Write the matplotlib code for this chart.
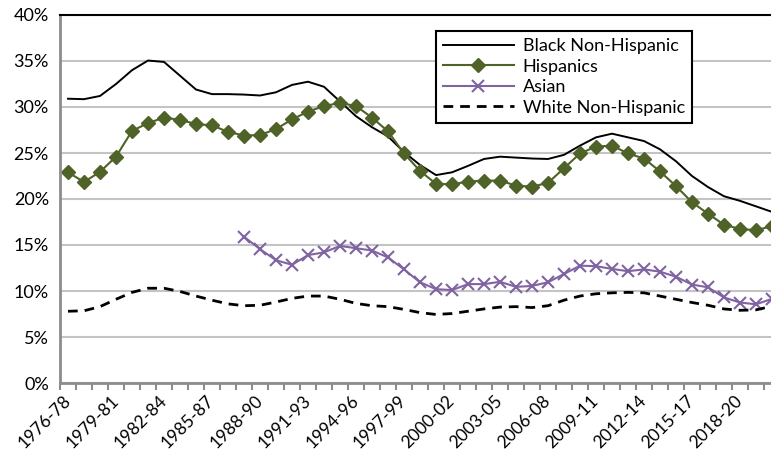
import matplotlib
matplotlib.use("Agg")
import matplotlib.pyplot as plt
from matplotlib.ticker import FixedLocator, PercentFormatter

# categories 1976-78 ... 2020-22
start_years = list(range(1976, 2021))
categories = [f"{y}-{str(y + 2)[-2:]}" for y in start_years]

black = [30.9, 30.85, 31.2, 32.5, 34.0, 35.05, 34.9, 33.4, 31.9, 31.4, 31.4,
         31.35, 31.25, 31.6, 32.4, 32.75, 32.2, 30.6, 29.0, 27.8, 26.8, 25.1,
         23.7, 22.6, 22.9, 23.6, 24.35, 24.6, 24.5, 24.4, 24.35, 24.8, 25.8,
         26.7, 27.1, 26.7, 26.3, 25.4, 24.1, 22.5, 21.3, 20.3, 19.8, 19.2, 18.6]

hispanic = [22.9, 21.85, 22.95, 24.6, 27.4, 28.25, 28.85, 28.6, 28.15, 28.0,
            27.3, 26.9, 26.95, 27.6, 28.65, 29.5, 30.1, 30.45, 30.1, 28.85,
            27.35, 24.95, 23.05, 21.65, 21.6, 21.9, 22.0, 22.0, 21.45, 21.35,
            21.75, 23.35, 24.95, 25.7, 25.8, 24.95, 24.4, 23.0, 21.4, 19.65,
            18.4, 17.2, 16.75, 16.6, 17.05]

asian = [None] * 11 + [15.9, 14.55, 13.35, 12.85, 13.9, 14.2, 14.9, 14.65,
                       14.4, 13.65, 12.35, 10.95, 10.2, 10.1, 10.75, 10.75,
                       11.0, 10.45, 10.55, 10.95, 11.85, 12.75, 12.7, 12.4,
                       12.15, 12.35, 12.1, 11.55, 10.7, 10.4, 9.3, 8.75, 8.55,
                       9.15]

white = [7.8, 7.85, 8.3, 9.1, 9.85, 10.3, 10.3, 9.95, 9.45, 9.0, 8.6, 8.4,
         8.45, 8.8, 9.2, 9.45, 9.45, 9.1, 8.65, 8.4, 8.3, 8.0, 7.65, 7.45, 7.55,
         7.8, 8.05, 8.25, 8.3, 8.2, 8.4, 9.0, 9.45, 9.7, 9.8, 9.85, 9.8, 9.45,
         9.1, 8.75, 8.45, 8.05, 7.9, 7.95, 8.35]

x = list(range(len(categories)))
asian_x = [i for i, v in enumerate(asian) if v is not None]
asian_y = [v for v in asian if v is not None]

plt.rcParams["font.family"] = ["Lato", "DejaVu Sans"]

fig = plt.figure(figsize=(7.71, 4.53), dpi=100)
ax = fig.add_axes([60 / 771, 70 / 453, 720 / 771, 368 / 453])

ax.plot(x, black, color="black", linewidth=1.4, label="Black Non-Hispanic")
ax.plot(x, hispanic, color="#4F6228", linewidth=1.5, marker="D",
        markersize=7, label="Hispanics")
ax.plot(asian_x, asian_y, color="#8064A2", linewidth=1.5, marker="x",
        markersize=8, markeredgewidth=1.5, label="Asian")
ax.plot(x, white, color="black", linewidth=2, linestyle=(0, (3.5, 2.5)),
        label="White Non-Hispanic")

ax.set_xlim(-0.5, len(categories) - 0.5)
ax.set_ylim(0, 40)
ax.yaxis.set_major_locator(FixedLocator(range(0, 41, 5)))
ax.yaxis.set_major_formatter(PercentFormatter(decimals=0))
ax.tick_params(axis="y", length=0, labelsize=13, pad=8)
ax.grid(axis="y", color="#c4c4c4", linewidth=1.5)
ax.set_axisbelow(True)

ax.set_xticks(x[::3])
ax.set_xticklabels(categories[::3], rotation=45, ha="right", va="center",
                   rotation_mode="anchor", fontsize=12.5)
ax.set_xticks([i - 0.5 for i in x] + [len(x) - 0.5], minor=True)
ax.tick_params(axis="x", which="major", length=0, pad=11)
ax.tick_params(axis="x", which="minor", length=5, width=1.5,
               color="#8c8c8c", direction="out")

for side in ["left", "bottom"]:
    ax.spines[side].set_color("#8c8c8c")
    ax.spines[side].set_linewidth(2)
ax.spines["top"].set_color("black")
ax.spines["top"].set_linewidth(1.5)
ax.spines["right"].set_visible(False)

leg = ax.legend(loc="upper right", bbox_to_anchor=(692 / 771, 1 - 31 / 453),
                bbox_transform=fig.transFigure, fontsize=13, frameon=True,
                fancybox=False, edgecolor="black", framealpha=1,
                handlelength=3.9, borderaxespad=0, labelspacing=0.25,
                borderpad=0.4, handletextpad=0.5)
leg.get_frame().set_linewidth(1.5)

fig.savefig("out.png", dpi=100)
